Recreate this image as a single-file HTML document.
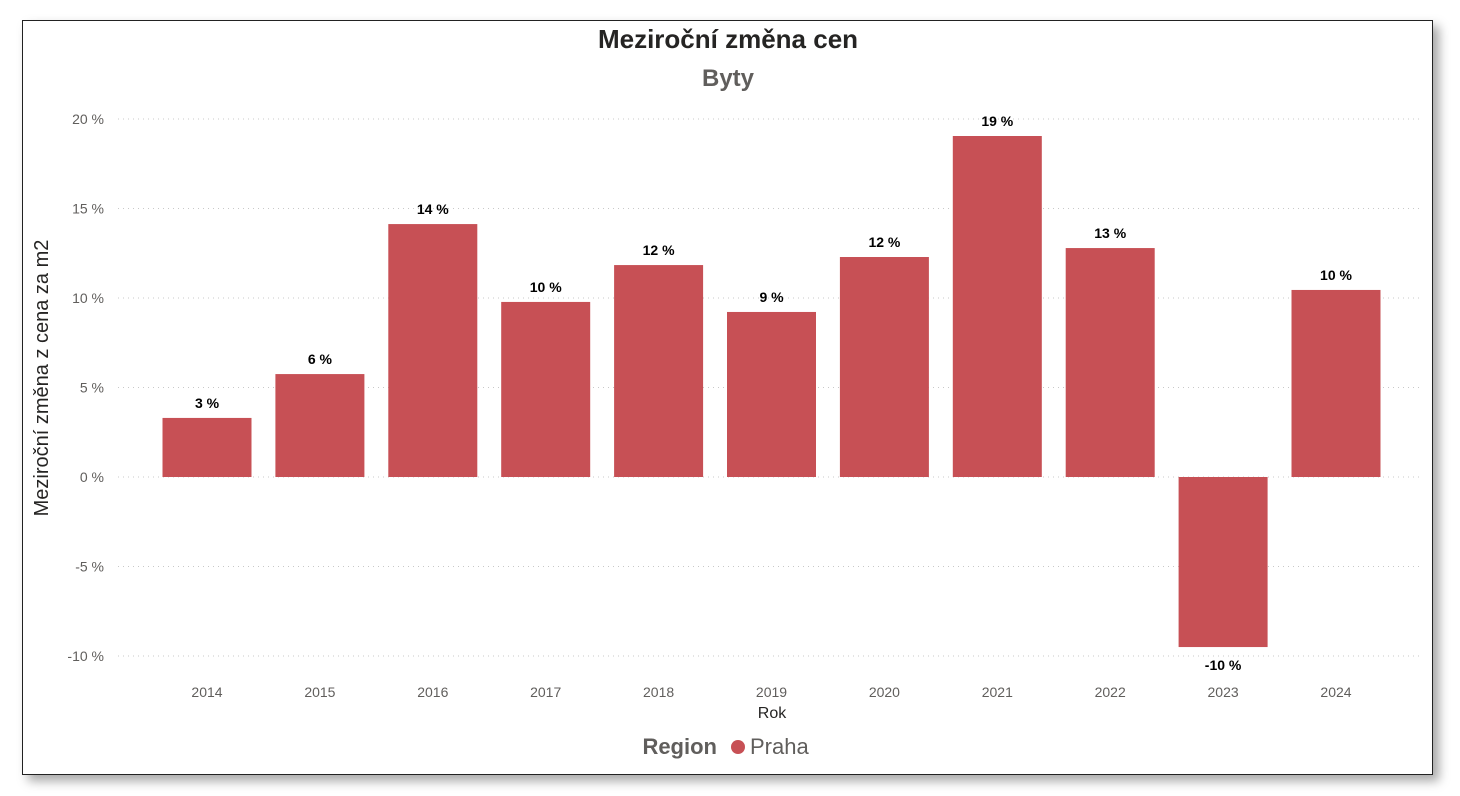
<!DOCTYPE html>
<html><head><meta charset="utf-8"><style>
body{margin:0;width:1460px;height:796px;background:#fff;overflow:hidden;font-family:"Liberation Sans",sans-serif}
#frame{position:absolute;left:22px;top:20px;width:1409px;height:753px;border:1px solid #222;box-shadow:6px 6px 10px rgba(0,0,0,0.35);background:#fff}
svg{position:absolute;left:0;top:0}
</style></head><body>
<div id="frame"></div>
<svg id="chart" width="1460" height="796">
<text x="728" y="48" text-anchor="middle" font-size="26" font-weight="bold" fill="#252423">Meziroční změna cen</text>
<text x="728" y="86" text-anchor="middle" font-size="24" font-weight="bold" fill="#605e5c">Byty</text>
<text transform="translate(48,378) rotate(-90)" text-anchor="middle" font-size="20" fill="#252423">Meziroční změna z cena za m2</text>
<text x="772" y="718" text-anchor="middle" font-size="16" fill="#252423">Rok</text>
<g>
<text x="717" y="754" text-anchor="end" font-size="22" font-weight="bold" fill="#605e5c">Region</text>
<circle cx="738" cy="747" r="7" fill="#c75055"/>
<text x="750" y="754" font-size="22" fill="#605e5c">Praha</text>
</g>
<g id="grid"></g><g id="bars"></g>
</svg>
<script>
const categories=["2014","2015","2016","2017","2018","2019","2020","2021","2022","2023","2024"];
const values=[3.3,5.75,14.13,9.78,11.84,9.22,12.29,19.05,12.79,-9.5,10.45];
const valueLabels=["3 %","6 %","14 %","10 %","12 %","9 %","12 %","19 %","13 %","-10 %","10 %"];
const yTicks=[-10,-5,0,5,10,15,20];
const yTickLabels=["-10 %","-5 %","0 %","5 %","10 %","15 %","20 %"];
const NS="http://www.w3.org/2000/svg";
const y=v=>477-v*17.9;
const x=i=>207+i*112.9;
const bw=89;
function mk(t,a,p){const e=document.createElementNS(NS,t);for(const k in a)e.setAttribute(k,a[k]);p.appendChild(e);return e;}
const grid=document.getElementById('grid'),bars=document.getElementById('bars');
yTicks.forEach((t,i)=>{
 const l=mk('line',{x1:118,x2:1423,y1:y(t),y2:y(t),stroke:'#c8c8c8','stroke-dasharray':'1 4'},grid);
 
 
 const tx=mk('text',{x:104,y:y(t)+5,'text-anchor':'end','font-size':14,fill:'#605e5c'},grid);
 tx.textContent=yTickLabels[i];
 
 
});
categories.forEach((c,i)=>{
 const v=values[i];
 const r=mk('rect',{x:x(i)-bw/2,y:Math.min(y(v),y(0)),width:bw,height:Math.abs(y(v)-y(0)),fill:'#c75055'},bars);
 
 
 const lb=mk('text',{x:x(i),y:v>=0?y(v)-10:y(v)+23,'text-anchor':'middle','font-size':14,'font-weight':'bold',fill:'#000'},bars);
 lb.textContent=valueLabels[i];
 
 
 const xt=mk('text',{x:x(i),y:697,'text-anchor':'middle','font-size':14,fill:'#605e5c'},bars);
 xt.textContent=c;
 
 
});
</script>
</body></html>
